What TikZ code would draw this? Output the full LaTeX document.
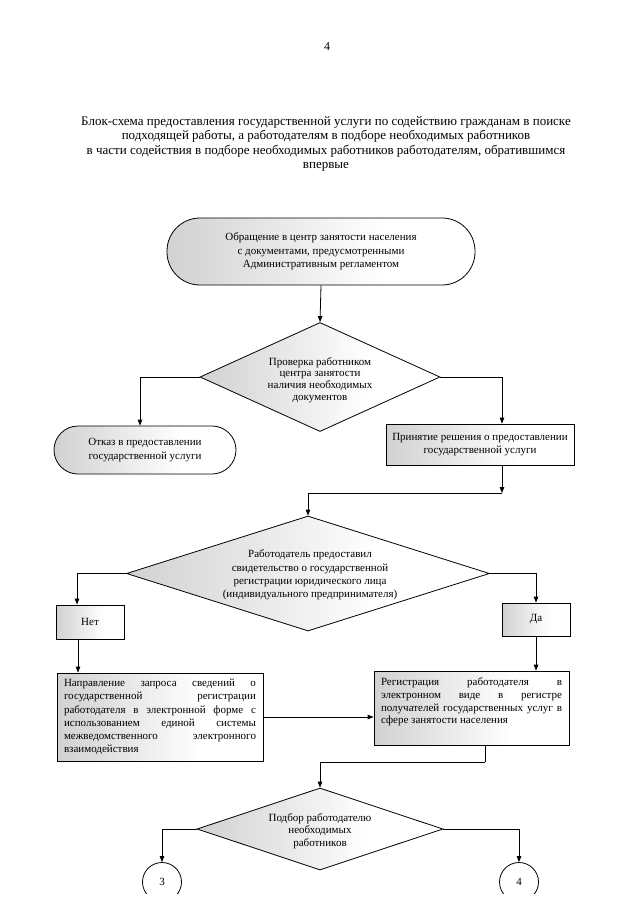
\documentclass[tikz,border=0pt]{standalone}
\usepackage{fontspec}
\setmainfont{Liberation Serif}
\usetikzlibrary{arrows.meta,shapes.geometric}
\pgfdeclarehorizontalshading{scanfill}{100bp}{color(0bp)=(black!30); color(35bp)=(black!13); color(60bp)=(white); color(100bp)=(white)}
\begin{document}
\begin{tikzpicture}[x=1pt,y=-1pt,
  base/.style={draw, line width=0.8pt, shade, shading=scanfill, align=center,
    font=\fontsize{11}{13.4}\selectfont, inner sep=0pt},
  term/.style={base, rectangle},
  box/.style={base, rectangle},
  dia/.style={base, diamond, inner sep=0pt},
  txt/.style={align=center, inner sep=0pt},
  arr/.style={-{Triangle[length=6pt,width=4.5pt]}, line width=0.8pt},
  ln/.style={line width=0.8pt},
  conn/.style={circle, draw, line width=0.8pt, fill=white, minimum size=39pt, inner sep=0pt, font=\fontsize{11}{13}\selectfont}
]
\useasboundingbox (0,0) rectangle (639,905);
\fill[white] (0,0) rectangle (639,905);

\node[font=\fontsize{12}{14}\selectfont] (pg) at (327,47) {4};

\node[align=center, font=\fontsize{13}{14.2}\selectfont] (title) at (326,144)
 {Блок-схема предоставления государственной услуги по содействию гражданам в поиске\\
  подходящей работы, а работодателям в подборе необходимых работников\\
  в части содействия в подборе необходимых работников работодателям, обратившимся\\
  впервые};

\node[term, rounded corners=33pt, minimum width=308pt, minimum height=67pt] (t1) at (321,251.5)
 {Обращение в центр занятости населения\\с документами, предусмотренными\\Административным регламентом};

\node[dia, minimum width=240pt, minimum height=109pt] (d1) at (320,377) {};
\node[txt, font=\fontsize{11}{11.8}\selectfont] (d1t) at (320,380)
 {Проверка работником\\центра занятости\\наличия необходимых\\документов};

\node[term, rounded corners=24pt, minimum width=182pt, minimum height=48pt] (otk) at (145,450)
 {Отказ в предоставлении\\государственной услуги};

\node[box, minimum width=188pt, minimum height=41pt] (prin) at (480,444.5)
 {Принятие решения о предоставлении\\государственной услуги};

\coordinate (j1) at (502,493);

\node[dia, minimum width=363pt, minimum height=115pt] (d2) at (308,573.5) {};
\node[txt, font=\fontsize{11}{13.3}\selectfont] (d2t) at (310,575)
 {Работодатель предоставил\\свидетельство о государственной\\регистрации юридического лица\\(индивидуального предпринимателя)};

\node[box, minimum width=68pt, minimum height=34pt] (net) at (90,622) {Нет};
\node[box, minimum width=68pt, minimum height=33pt] (da) at (536,619.5) {Да};

\node[box, minimum width=206pt, minimum height=88pt] (napr) at (160,717)
 {\parbox{192pt}{\fontsize{11}{13.3}\selectfont
  \hbox to\hsize{Направление\hfill запроса\hfill сведений\hfill о}
  \hbox to\hsize{государственной\hfill регистрации}
  \hbox to\hsize{работодателя\hfill в\hfill электронной\hfill форме\hfill с}
  \hbox to\hsize{использованием\hfill единой\hfill системы}
  \hbox to\hsize{межведомственного\hfill электронного}
  \hbox to\hsize{взаимодействия\hfill}}};

\node[box, minimum width=195pt, minimum height=74pt] (reg) at (471.5,708)
 {\parbox[c][60pt][t]{181pt}{\fontsize{11}{12.6}\selectfont
  \hbox to\hsize{Регистрация\hfill работодателя\hfill в}
  \hbox to\hsize{электронном\hfill виде\hfill в\hfill регистре}
  \hbox to\hsize{получателей\hfill государственных\hfill услуг\hfill в}
  \hbox to\hsize{сфере занятости населения\hfill}}};

\coordinate (j2) at (485,762);

\node[dia, minimum width=246pt, minimum height=82pt] (d3) at (320,829) {};
\node[txt, font=\fontsize{11}{12.5}\selectfont] (d3t) at (320,831)
 {Подбор работодателю\\необходимых\\работников};

\begin{scope}
\clip (0,0) rectangle (639,893);
\node[conn] (c3) at (162,882) {3};
\node[conn] (c4) at (519,882) {4};
\end{scope}

% connectors
\draw[arr] (t1.south) -- (d1.north);
\draw[arr] (d1.west) -| ([xshift=-5pt]otk.north);
\draw[arr] (d1.east) -| ([xshift=22pt]prin.north);
\draw[arr] ([xshift=22pt]prin.south) -- (j1);
\draw[arr] (j1) -| (d2.north);
\draw[arr] (d2.west) -| ([xshift=-13pt]net.north);
\draw[arr] (d2.east) -| (da.north);
\draw[arr] ([xshift=-12pt]net.south) -- ([xshift=-12pt]net.south |- napr.north);
\draw[arr] (da.south) -- (da.south |- reg.north);
\draw[arr] (napr.east) -- (napr.east -| reg.west);
\draw[ln] ([xshift=13.5pt]reg.south) -- (j2);
\draw[arr] (j2) -| (d3.north);
\draw[arr] (d3.west) -| (c3.north);
\draw[arr] (d3.east) -| (c4.north);
\end{tikzpicture}
\end{document}
